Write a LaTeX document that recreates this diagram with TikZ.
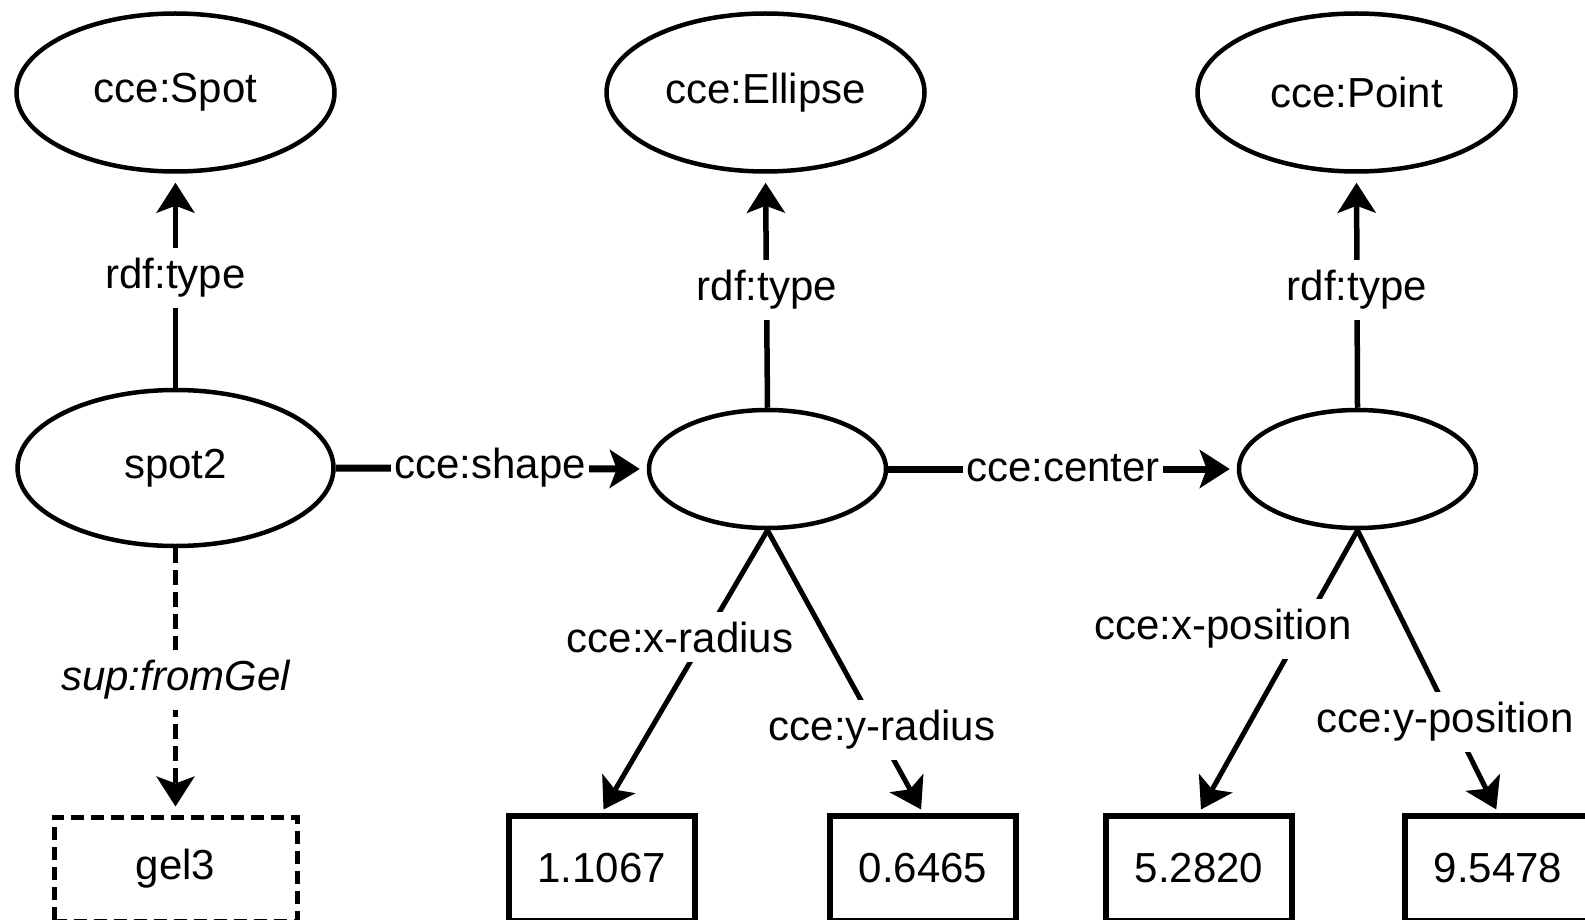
\documentclass[tikz,border=0pt]{standalone}
\usepackage{fontspec}
\setmainfont{Liberation Sans}
\usetikzlibrary{arrows.meta,shapes.geometric}
\begin{document}
\begin{tikzpicture}[x=1pt,y=-1pt,
  every node/.style={font=\fontsize{42}{50}\selectfont},
  cls/.style={ellipse, draw, line width=4.5pt, minimum width=318pt, minimum height=158pt, inner sep=0pt},
  res/.style={ellipse, draw, line width=4.5pt, inner sep=0pt},
  lit/.style={rectangle, draw, line width=6pt, minimum width=186pt, minimum height=105pt, inner sep=0pt},
  conn/.style={line width=4.5pt, -{Stealth[length=30pt,width=38pt,inset=7pt]}},
  lbl/.style={fill=white, inner xsep=3pt, inner ysep=10pt},
]
\useasboundingbox (0,0) rectangle (1585,920);
\clip (0,0) rectangle (1585,920);

% class nodes
\node[cls] (Spot) at (175.5,92.5) {cce:Spot};
\node[cls] (Ell) at (765.5,92.5) {cce:Ellipse};
\node[cls] (Pt) at (1356.5,92.5) {cce:Point};

% resources
\node[res, minimum width=316pt, minimum height=156pt] (spot2) at (175.5,468) {spot2};
\node[res, minimum width=237pt, minimum height=118pt] (sh) at (767.5,469) {};
\node[res, minimum width=237pt, minimum height=118pt] (ce) at (1357.5,469) {};

% literals
\node[lit, line width=5pt, dash pattern=on 13pt off 7pt, minimum width=243pt, minimum height=104pt] (gel) at (175.5,869) {gel3};
\node[lit] (v1) at (601.5,868.5) {1.1067};
\node[lit] (v2) at (923,868.5) {0.6465};
\node[lit] (v3) at (1199,868.5) {5.2820};
\node[lit] (v4) at (1498,868.5) {9.5478};

% connectors
\draw[conn, shorten >=9pt] (spot2.north) -- (Spot.south);
\draw[conn, line width=5.5pt, shorten >=9pt] (sh.north) -- (Ell.south);
\draw[conn, line width=5.5pt, shorten >=9pt] (ce.north) -- (Pt.south);
\draw[conn, line width=7pt, shorten >=7pt] (spot2.east) -- (sh.west);
\draw[conn, line width=7pt, shorten >=7pt] (sh.east) -- (ce.west);
\draw[conn, dash pattern=on 15pt off 7pt, shorten >=8pt] (spot2.south) -- (gel.north);
\draw[conn, line width=5pt, shorten >=4pt] (sh.south) -- (v1.north);
\draw[conn, line width=5pt, shorten >=4pt] (sh.south) -- (v2.north);
\draw[conn, line width=5pt, shorten >=4pt] (ce.south) -- (v3.north);
\draw[conn, line width=5pt, shorten >=4pt] (ce.south) -- (v4.north);

% labels
\node[lbl] (t1) at (175.5,278) {rdf:type};
\node[lbl] (t2) at (767,290) {rdf:type};
\node[lbl] (t3) at (1357,290) {rdf:type};
\node[lbl] (tshape) at (490,468) {cce:shape};
\node[lbl] (tcenter) at (1063,468) {cce:center};
\node[lbl] (tgel) at (175.5,680) {\itshape sup:fromGel};
\node[lbl] (txr) at (680,637) {cce:x-radius};
\node[lbl] (tyr) at (882,730) {cce:y-radius};
\node[lbl] (txp) at (1223,629) {cce:x-position};
\node[lbl] (typ) at (1445,722) {cce:y-position};
\end{tikzpicture}
\end{document}
